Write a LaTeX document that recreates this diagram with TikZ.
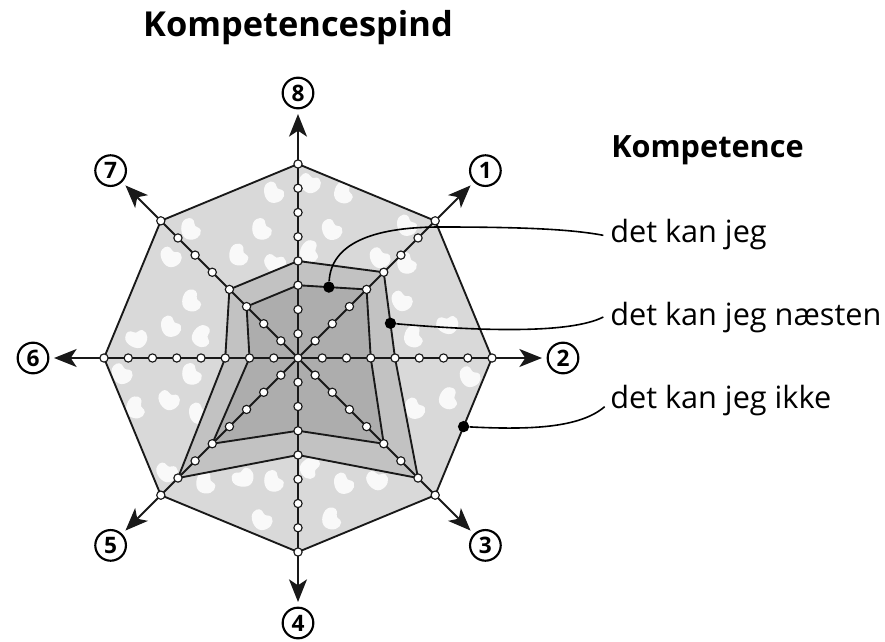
\documentclass[tikz,border=0pt]{standalone}
\usepackage{fontspec}
\setmainfont{Open Sans}
\usetikzlibrary{arrows.meta,calc}
\definecolor{outerfill}{gray}{0.85}
\definecolor{midfill}{gray}{0.76}
\definecolor{innerfill}{gray}{0.68}
\definecolor{edgecol}{gray}{0.1}
\tikzset{
  edge/.style={draw=edgecol, line width=1.4pt, line join=round},
  axisline/.style={draw=edgecol, line width=1.4pt, -{Stealth[length=17pt,width=13.5pt,inset=4.5pt]}},
  tick/.style={circle, draw=edgecol, fill=white, line width=0.85pt, minimum size=6.2pt, inner sep=0pt},
  numc/.style={circle, draw=black, line width=1.6pt, minimum size=23pt, inner sep=0pt, font=\fontsize{17}{17}\selectfont\bfseries},
  dotb/.style={circle, fill=black, minimum size=8.5pt, inner sep=0pt},
  leader/.style={draw=black, line width=1.2pt},
  lbl/.style={anchor=base west, inner sep=0pt, font=\fontsize{23}{23}\selectfont},
  bean/.pic={\fill[white, opacity=.85, scale=1.25] (-5,-8) .. controls (-10,-6) and (-10,6) .. (-4,8) .. controls (2,10) and (8,6) .. (7,1) .. controls (6,-2) and (2,-1) .. (2,-4) .. controls (2,-8) and (-1,-10) .. (-5,-8) -- cycle;}
}
\begin{document}
\begin{tikzpicture}[x=0.75pt,y=-0.75pt]
\useasboundingbox (0,0) rectangle (885,642);
\begin{scope}[shift={(298,358)}, yscale=-1]
  \coordinate (C) at (0,0);
  \foreach \i/\a/\m/\n in {1/45/5/4, 2/0/4/3, 3/-45/7/5, 4/-90/4/3, 5/-135/7/5, 6/180/3/2, 7/135/4/3, 8/90/4/3} {
    \coordinate (o\i) at (\a:194);
    \coordinate (t\i) at (\a:244);
    \coordinate (n\i) at (\a:265);
    \coordinate (m\i) at (\a:{\m*24.25});
    \coordinate (i\i) at (\a:{\n*24.25});
  }
\end{scope}
% outer octagon fill
\fill[outerfill] (o1) -- (o2) -- (o3) -- (o4) -- (o5) -- (o6) -- (o7) -- (o8) -- cycle;
% blobs
\begin{scope}
  \clip (o1) -- (o2) -- (o3) -- (o4) -- (o5) -- (o6) -- (o7) -- (o8) -- cycle;
  \foreach \x/\y/\r in {275/192/10, 345/193/-20, 311/182/30, 263/229/0, 333/229/15, 240/255/-10, 276/262/40, 311/252/-30, 381/257/20,
     192/229/0, 172/256/25, 193/301/-15, 172/326/10, 137/337/60, 203/337/-40, 123/373/20, 193/374/0, 170/399/30, 137/408/-20, 200/413/10,
     168/471/35, 207/483/-10, 243/476/80, 275/481/0, 263/519/20, 311/469/-60, 345/483/10, 378/479/40, 333/519/-15,
     471/376/20, 450/399/-30, 416/408/10, 408/263/0, 403/300/25, 415/337/-20, 448/323/60, 408/225/10}
    \pic[rotate=\r] at (\x,\y) {bean};
\end{scope}
% middle and inner areas
\fill[midfill] (m1) -- (m2) -- (m3) -- (m4) -- (m5) -- (m6) -- (m7) -- (m8) -- cycle;
\fill[innerfill] (i1) -- (i2) -- (i3) -- (i4) -- (i5) -- (i6) -- (i7) -- (i8) -- cycle;
\draw[edge] (o1) -- (o2) -- (o3) -- (o4) -- (o5) -- (o6) -- (o7) -- (o8) -- cycle;
\draw[edge] (m1) -- (m2) -- (m3) -- (m4) -- (m5) -- (m6) -- (m7) -- (m8) -- cycle;
\draw[edge] (i1) -- (i2) -- (i3) -- (i4) -- (i5) -- (i6) -- (i7) -- (i8) -- cycle;
% axes
\foreach \i in {1,...,8} \draw[axisline] (C) -- (t\i);
% ticks
\node[tick] (tk0) at (C) {};
\begin{scope}[shift={(298,358)}, yscale=-1]
  \foreach \i/\a in {1/45, 2/0, 3/-45, 4/-90, 5/-135, 6/180, 7/135, 8/90}
    \foreach \k in {1,...,8}
      \node[tick] (tk\i-\k) at (\a:{\k*24.25}) {};
\end{scope}
% numbered circles
\foreach \i in {1,...,8} \node[numc] (c\i) at (n\i) {\i};
% title and legend
\node[anchor=base, inner sep=0pt, font=\fontsize{25.8}{26}\selectfont\bfseries] (title) at (298,37) {Kompetencespind};
\node[anchor=base west, inner sep=0pt, font=\fontsize{23}{23}\selectfont\bfseries] (head) at (611,157) {Kompetence};
\node[lbl] (l1) at (610,242) {det kan jeg};
\node[lbl] (l2) at (610,325) {det kan jeg næsten};
\node[lbl] (l3) at (610,408) {det kan jeg ikke};
\coordinate (e1) at ([xshift=-5pt,yshift=5pt]l1.base west);
\coordinate (e2) at ([xshift=-5pt,yshift=6pt]l2.base west);
\coordinate (e3) at ([xshift=-4pt,yshift=1pt]l3.base west);
% dots
\node[dotb] (d1) at ($(i8)!0.45!(i1)$) {};
\node[dotb] (d2) at ($(m1)!0.595!(m2)$) {};
\node[dotb] (d3) at ($(o2)!0.5!(o3)$) {};
% leaders
\draw[leader] (d1) .. controls (331,245) and (370,227) .. (440,227) .. controls (520,227) and (570,229) .. (e1);
\draw[leader] (d2) .. controls (480,331) and (570,334) .. (e2);
\draw[leader] (d3) .. controls (530,430) and (580,428) .. (e3);
\end{tikzpicture}
\end{document}
